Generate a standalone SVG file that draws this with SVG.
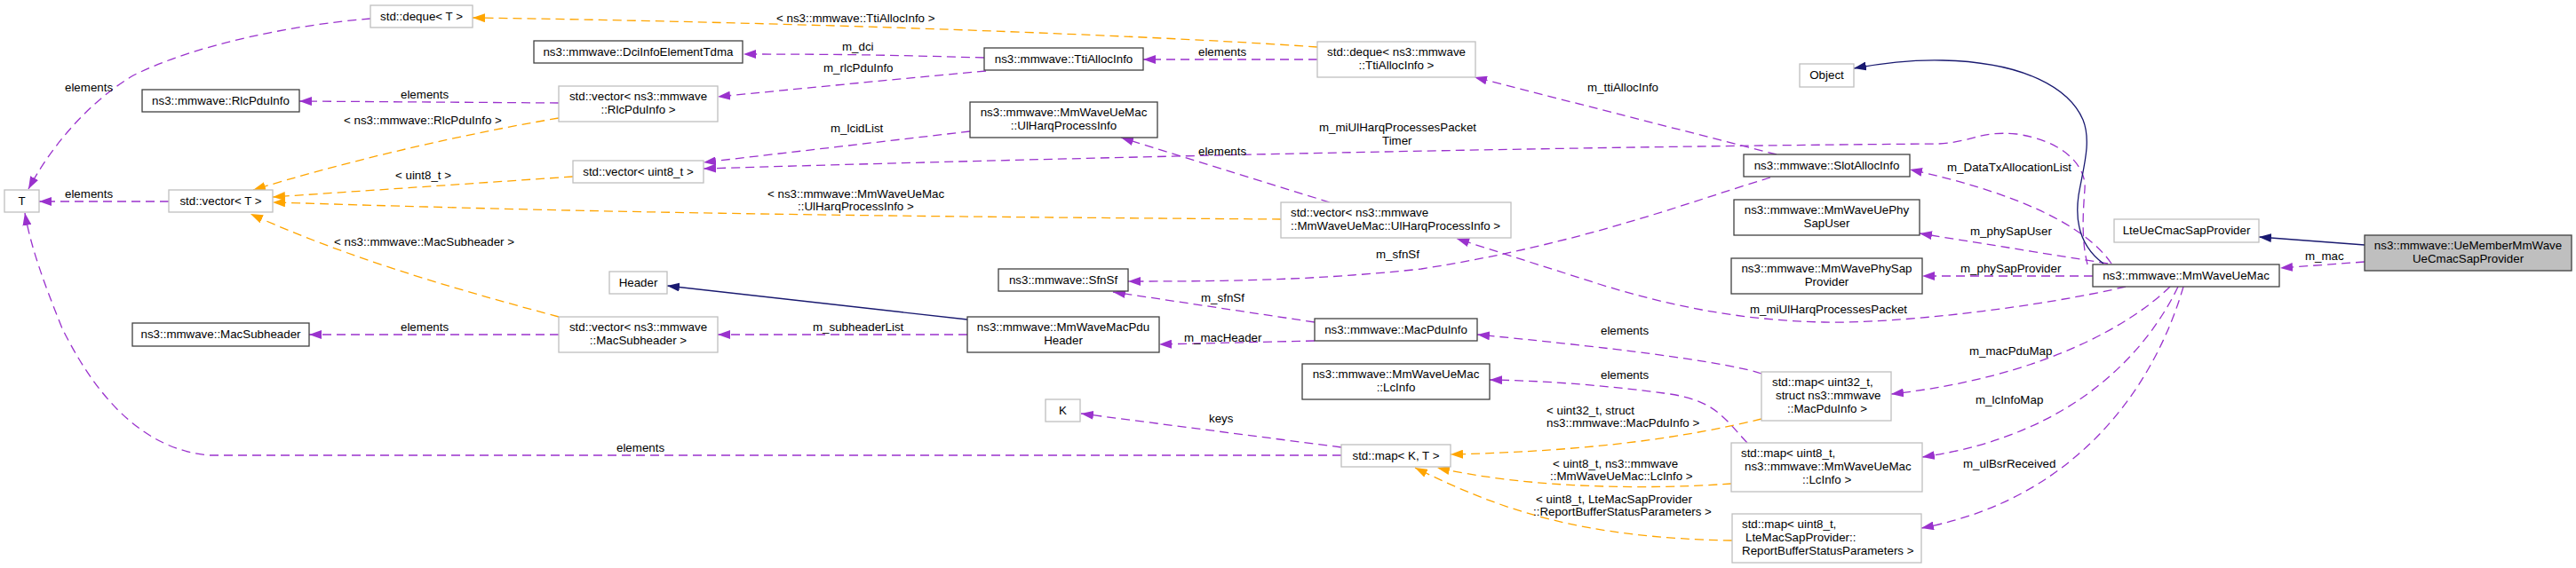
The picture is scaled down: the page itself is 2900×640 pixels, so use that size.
<svg xmlns="http://www.w3.org/2000/svg" width="2900" height="640" viewBox="0 0 2900 640">
<style>
text{font-family:"Liberation Sans",Arial,Helvetica,sans-serif;font-size:13.33px;fill:#000}
.nd rect{fill:#fff;stroke:#bfbfbf;stroke-width:1.3}
.nd.doc rect{stroke:#404040}
.nd.root rect{fill:#bfbfbf;stroke:#404040}
.nd text{text-anchor:middle}
.nd text.l{text-anchor:start}
#edges path{fill:none;stroke-width:1.3}
#edges .p{stroke:#9a32cd;stroke-dasharray:10,6;marker-end:url(#mp)}
#edges .o{stroke:#ffa500;stroke-dasharray:10,6;marker-end:url(#mo)}
#edges .s{stroke:#191970;marker-end:url(#ms)}
</style>
<defs>
<marker id="mp" markerUnits="userSpaceOnUse" markerWidth="14" markerHeight="10" refX="14" refY="5" orient="auto"><path d="M0,0 L14,5 L0,10 z" fill="#9a32cd" stroke="none"/></marker>
<marker id="mo" markerUnits="userSpaceOnUse" markerWidth="14" markerHeight="10" refX="14" refY="5" orient="auto"><path d="M0,0 L14,5 L0,10 z" fill="#ffa500" stroke="none"/></marker>
<marker id="ms" markerUnits="userSpaceOnUse" markerWidth="14" markerHeight="10" refX="14" refY="5" orient="auto"><path d="M0,0 L14,5 L0,10 z" fill="#191970" stroke="none"/></marker>
</defs>
<rect x="0" y="0" width="2900" height="640" fill="#fff"/>

<g id="edges">
<path class="p" d="M417,21 C330,28 220,50 150,85 C95,118 55,170 32,213"/>
<path class="p" d="M190,227 L44,227"/>
<path class="p" d="M1510,513 L235,513 C150,505 100,430 70,370 C50,320 35,280 28,240"/>
<path class="p" d="M629,116 L337,114"/>
<path class="o" d="M629,133 C500,155 380,185 285,214"/>
<path class="o" d="M645,199 L307,222"/>
<path class="o" d="M1442,247 C1150,245 800,242 480,233 C400,231 350,229 307,228"/>
<path class="o" d="M629,357 C540,333 400,295 282,241"/>
<path class="p" d="M629,377 L348,377"/>
<path class="p" d="M1089,377 L808,377"/>
<path class="s" d="M1089,360 L751,322"/>
<path class="p" d="M1480,384 L1305,388"/>
<path class="p" d="M1480,363 L1253,329"/>
<path class="p" d="M1993,200 C1900,228 1780,275 1600,303 C1480,316 1380,317 1270,317"/>
<path class="p" d="M2000,174 L1660,87"/>
<path class="p" d="M1483,67 L1287,67"/>
<path class="o" d="M1483,53 C1300,40 900,25 532,20"/>
<path class="p" d="M1108,65 C1000,62 950,61 837,61"/>
<path class="p" d="M1110,80 C1000,90 900,100 808,109"/>
<path class="p" d="M1092,148 L792,183"/>
<path class="p" d="M2350,298 C2343,270 2345,240 2347,213 C2349,185 2320,158 2270,151 C2230,147 2220,160 2183,162 C1900,164 1400,172 792,190"/>
<path class="p" d="M1497,228 L1262,155"/>
<path class="p" d="M2377,297 C2345,250 2260,215 2150,191"/>
<path class="p" d="M2373,297 L2161,263"/>
<path class="p" d="M2356,311 L2164,311"/>
<path class="s" d="M2368,297 C2345,280 2335,255 2340,220 C2345,190 2355,160 2345,135 C2330,100 2280,70 2187,68 C2150,67 2120,71 2087,77"/>
<path class="s" d="M2662,276 L2543,267"/>
<path class="p" d="M2662,295 L2567,302"/>
<path class="p" d="M2393,323 C2300,345 2140,365 2053,363 C1960,361 1880,345 1800,320 L1640,269"/>
<path class="p" d="M2443,323 C2400,365 2300,425 2129,444"/>
<path class="p" d="M2452,323 C2420,390 2340,490 2164,515"/>
<path class="p" d="M2458,323 C2430,420 2350,560 2163,595"/>
<path class="p" d="M1983,421 C1950,410 1850,395 1663,377"/>
<path class="p" d="M1967,499 C1940,470 1930,450 1873,443 C1820,436 1750,429 1677,428"/>
<path class="o" d="M1983,472 C1900,492 1800,508 1633,512"/>
<path class="o" d="M1949,545 C1850,552 1720,550 1618,527"/>
<path class="o" d="M1950,609 C1780,606 1690,575 1593,527"/>
<path class="p" d="M1510,504 L1217,466"/>
</g>

<g id="edge-labels">
<text x="73" y="103">elements</text>
<text x="73" y="223">elements</text>
<text x="694" y="508.5">elements</text>
<text x="451" y="111">elements</text>
<text x="387" y="140">&lt; ns3::mmwave::RlcPduInfo &gt;</text>
<text x="445" y="201.5">&lt; uint8_t &gt;</text>
<text x="864" y="222.5">&lt; ns3::mmwave::MmWaveUeMac</text>
<text x="898" y="237">::UlHarqProcessInfo &gt;</text>
<text x="376" y="277">&lt; ns3::mmwave::MacSubheader &gt;</text>
<text x="451" y="373">elements</text>
<text x="915" y="373">m_subheaderList</text>
<text x="1333" y="385">m_macHeader</text>
<text x="1352" y="339.5">m_sfnSf</text>
<text x="1549" y="290.5">m_sfnSf</text>
<text x="1361" y="476">keys</text>
<text x="1802" y="376.5">elements</text>
<text x="1802" y="426.5">elements</text>
<text x="1741" y="467">&lt; uint32_t, struct</text>
<text x="1741" y="481">ns3::mmwave::MacPduInfo &gt;</text>
<text x="1748" y="527">&lt; uint8_t, ns3::mmwave</text>
<text x="1745" y="541">::MmWaveUeMac::LcInfo &gt;</text>
<text x="1729" y="567">&lt; uint8_t, LteMacSapProvider</text>
<text x="1726" y="581">::ReportBufferStatusParameters &gt;</text>
<text x="1970" y="352.5">m_miUlHarqProcessesPacket</text>
<text x="2217" y="400">m_macPduMap</text>
<text x="2224" y="455">m_lcInfoMap</text>
<text x="2210" y="526.5">m_ulBsrReceived</text>
<text x="2595" y="293">m_mac</text>
<text x="2192" y="192.5">m_DataTxAllocationList</text>
<text x="2218" y="264.5">m_phySapUser</text>
<text x="2207" y="306.5">m_phySapProvider</text>
<text x="1787" y="103">m_ttiAllocInfo</text>
<text x="1485" y="147.5">m_miUlHarqProcessesPacket</text>
<text x="1556" y="162.5">Timer</text>
<text x="1349" y="175">elements</text>
<text x="935" y="148.5">m_lcidList</text>
<text x="1349" y="63">elements</text>
<text x="874" y="24.5">&lt; ns3::mmwave::TtiAllocInfo &gt;</text>
<text x="948" y="56.5">m_dci</text>
<text x="927" y="81">m_rlcPduInfo</text>
</g>

<g id="n_T" class="nd"><rect x="5" y="214" width="39" height="25"/><text x="24.5" y="230.5">T</text></g>
<g id="n_dequeT" class="nd"><rect x="417" y="6" width="115" height="25"/><text x="474.5" y="22.5">std::deque&lt; T &gt;</text></g>
<g id="n_RlcPduInfo" class="nd doc"><rect x="160" y="101" width="177" height="25"/><text x="248.5" y="117.5">ns3::mmwave::RlcPduInfo</text></g>
<g id="n_vectorT" class="nd"><rect x="190" y="214" width="117" height="25"/><text x="248.5" y="230.5">std::vector&lt; T &gt;</text></g>
<g id="n_Dci" class="nd doc"><rect x="601" y="46" width="235" height="25"/><text x="718.5" y="62.5">ns3::mmwave::DciInfoElementTdma</text></g>
<g id="n_vecRlc" class="nd"><rect x="629" y="97" width="179" height="40"/><text x="718.5" y="113">std::vector&lt; ns3::mmwave</text><text x="718.5" y="128">::RlcPduInfo &gt;</text></g>
<g id="n_vecU8" class="nd"><rect x="645" y="181" width="147" height="25"/><text x="718.5" y="197.5">std::vector&lt; uint8_t &gt;</text></g>
<g id="n_Header" class="nd"><rect x="686" y="306" width="65" height="25"/><text x="718.5" y="322.5">Header</text></g>
<g id="n_vecSub" class="nd"><rect x="629" y="357" width="179" height="40"/><text x="718.5" y="373">std::vector&lt; ns3::mmwave</text><text x="718.5" y="388">::MacSubheader &gt;</text></g>
<g id="n_MacSub" class="nd doc"><rect x="149" y="364" width="199" height="26"/><text x="248.5" y="381">ns3::mmwave::MacSubheader</text></g>
<g id="n_Tti" class="nd doc"><rect x="1108" y="54" width="179" height="25"/><text x="1197.5" y="70.5">ns3::mmwave::TtiAllocInfo</text></g>
<g id="n_UlHarq" class="nd doc"><rect x="1092" y="115" width="211" height="40"/><text x="1197.5" y="131">ns3::mmwave::MmWaveUeMac</text><text x="1197.5" y="146">::UlHarqProcessInfo</text></g>
<g id="n_SfnSf" class="nd doc"><rect x="1124" y="303" width="146" height="25"/><text x="1197" y="319.5">ns3::mmwave::SfnSf</text></g>
<g id="n_PduHeader" class="nd doc"><rect x="1089" y="357" width="216" height="40"/><text x="1197" y="373">ns3::mmwave::MmWaveMacPdu</text><text x="1197" y="388">Header</text></g>
<g id="n_K" class="nd"><rect x="1177" y="450" width="39" height="25"/><text x="1196.5" y="466.5">K</text></g>
<g id="n_dequeTti" class="nd"><rect x="1483" y="47" width="178" height="40"/><text x="1572" y="63">std::deque&lt; ns3::mmwave</text><text x="1572" y="78">::TtiAllocInfo &gt;</text></g>
<g id="n_vecUlHarq" class="nd"><rect x="1442" y="228" width="259" height="40"/><text class="l" x="1453" y="244">std::vector&lt; ns3::mmwave</text><text class="l" x="1453" y="259">::MmWaveUeMac::UlHarqProcessInfo &gt;</text></g>
<g id="n_MacPduInfo" class="nd doc"><rect x="1480" y="359" width="183" height="25"/><text x="1571.5" y="375.5">ns3::mmwave::MacPduInfo</text></g>
<g id="n_LcInfo" class="nd doc"><rect x="1466" y="410" width="211" height="40"/><text x="1571.5" y="426">ns3::mmwave::MmWaveUeMac</text><text x="1571.5" y="441">::LcInfo</text></g>
<g id="n_mapKT" class="nd"><rect x="1510" y="501" width="123" height="25"/><text x="1571.5" y="517.5">std::map&lt; K, T &gt;</text></g>
<g id="n_Object" class="nd"><rect x="2026" y="72" width="61" height="26"/><text x="2056.5" y="89">Object</text></g>
<g id="n_Slot" class="nd doc"><rect x="1963" y="174" width="187" height="25"/><text x="2056.5" y="190.5">ns3::mmwave::SlotAllocInfo</text></g>
<g id="n_PhyUser" class="nd doc"><rect x="1952" y="225" width="209" height="40"/><text x="2056.5" y="241">ns3::mmwave::MmWaveUePhy</text><text x="2056.5" y="256">SapUser</text></g>
<g id="n_PhyProv" class="nd doc"><rect x="1949" y="291" width="215" height="40"/><text x="2056.5" y="307">ns3::mmwave::MmWavePhySap</text><text x="2056.5" y="322">Provider</text></g>
<g id="n_mapU32" class="nd"><rect x="1983" y="419" width="146" height="55"/><text class="l" x="1995" y="435">std::map&lt; uint32_t,</text><text class="l" x="1999" y="450">struct ns3::mmwave</text><text class="l" x="2012" y="465">::MacPduInfo &gt;</text></g>
<g id="n_mapLc" class="nd"><rect x="1949" y="499" width="215" height="55"/><text class="l" x="1960" y="515">std::map&lt; uint8_t,</text><text class="l" x="1964" y="530">ns3::mmwave::MmWaveUeMac</text><text class="l" x="2029" y="545">::LcInfo &gt;</text></g>
<g id="n_mapBsr" class="nd"><rect x="1950" y="579" width="213" height="55"/><text class="l" x="1961" y="595">std::map&lt; uint8_t,</text><text class="l" x="1965" y="610">LteMacSapProvider::</text><text class="l" x="1961" y="625">ReportBufferStatusParameters &gt;</text></g>
<g id="n_UeMac" class="nd doc"><rect x="2356" y="298" width="210" height="25"/><text x="2461" y="314.5">ns3::mmwave::MmWaveUeMac</text></g>
<g id="n_LteCmac" class="nd"><rect x="2380" y="247" width="163" height="26"/><text x="2461.5" y="264">LteUeCmacSapProvider</text></g>
<g id="n_UeMember" class="nd root"><rect x="2662" y="265" width="233" height="40"/><text x="2778.5" y="281">ns3::mmwave::UeMemberMmWave</text><text x="2778.5" y="296">UeCmacSapProvider</text></g>
</svg>
